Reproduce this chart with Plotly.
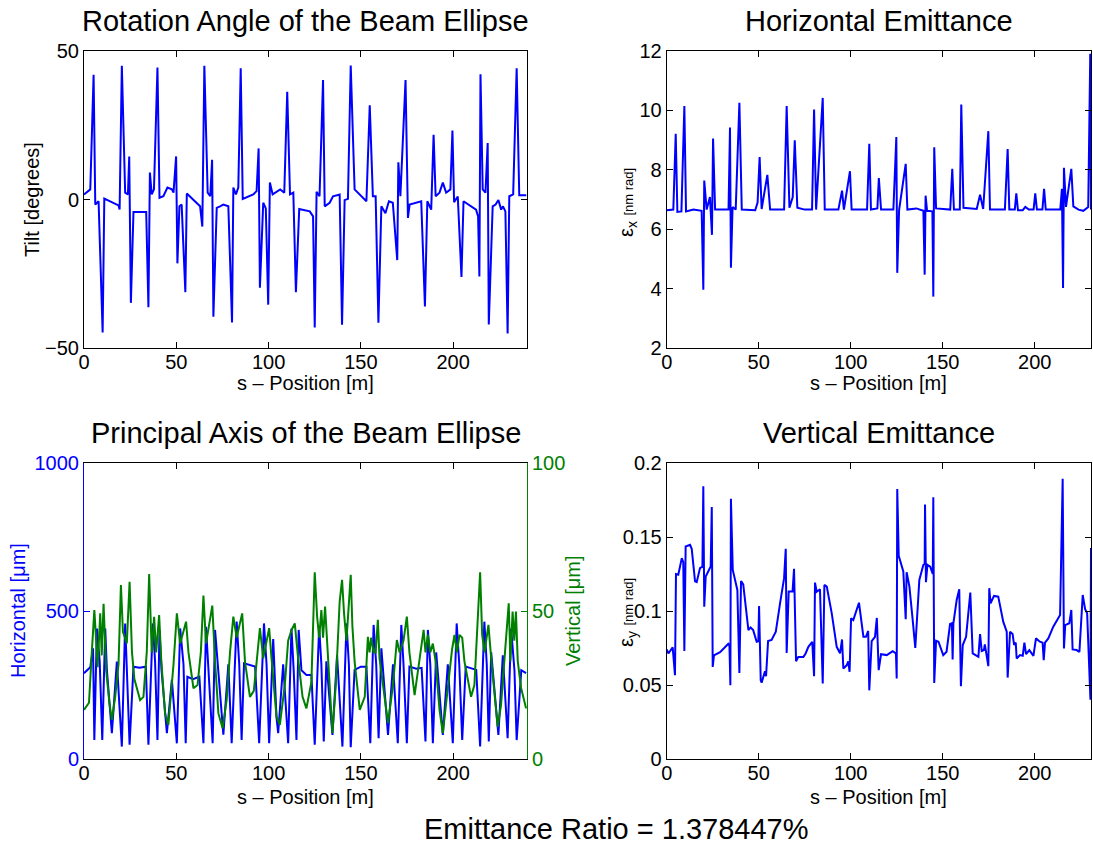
import plotly.graph_objects as go

# ---------------- Rotation angle of the beam ellipse ----------------
s_tilt = [0, 3.4, 5.2, 6.1, 7.9, 10.1, 11.0, 14.0, 18.7, 19.3,
          20.5, 22.3, 23.8, 24.5, 25.4, 26.8, 33.7, 34.9, 35.7, 36.7,
          37.9, 39.8, 40.9, 43.0, 45.2, 47.6, 48.5, 49.9, 50.6, 51.7,
          52.9, 54.9, 55.7, 62.9, 64.1, 65.2, 67.0, 68.4, 69.4, 70.1,
          71.9, 73.7, 75.5, 78.2, 80.2, 80.9, 82.3, 83.6, 84.9, 86.0,
          91.7, 93.5, 94.6, 95.3, 97.1, 98.5, 99.8, 100.7, 102.2, 106.3,
          108.5, 110.1, 111.6, 113.4, 114.8, 116.6, 122.3, 124.1, 125.0, 126.0,
          127.6, 129.5, 130.4, 133.1, 134.9, 138.5, 139.8, 141.2, 143.0, 144.5,
          146.6, 153.0, 154.8, 156.5, 158.0, 159.5, 161.1, 163.3, 165.2, 167.3,
          169.7, 170.3, 171.4, 174.2, 175.5, 176.4, 182.7, 184.7, 186.0, 188.1,
          189.4, 190.5, 192.6, 194.4, 196.2, 198.5, 199.6, 200.5, 202.5, 204.5,
          205.6, 212.4, 213.5, 214.2, 214.8, 216.0, 217.5, 218.7, 219.3, 221.4,
          223.0, 224.5, 226.0, 227.0, 228.3, 229.5, 230.4, 232.5, 234.4, 235.8,
          239.6]
tilt = [1.7, 3.4, 42.0, -1.7, -0.6, -44.8, 0.3, -0.5, -2.0, -3.4,
        45.0, 2.3, 1.7, 14.5, -34.8, -4.2, -4.2, -36.3, 9.1, 1.7,
        3.4, 44.4, 0.6, 1.1, 4.0, 3.4, 2.3, 14.5, -21.5, -2.3,
        -1.7, -31.2, 2.0, -2.3, -9.1, 45.0, 2.3, 1.1, 13.4, -39.5,
        -2.8, -2.3, -1.7, -2.3, -41.4, 4.0, 1.7, 4.0, 44.2, 0.2,
        1.7, 2.8, 17.2, -29.7, -1.1, -3.0, -35.4, 5.7, 1.7, 3.4,
        2.3, 36.3, 1.7, 2.3, -31.2, -3.2, -4.0, -5.7, -43.1, 2.6,
        1.1, 40.2, -2.3, -1.1, 1.1, 1.7, -42.2, -0.2, 0.2, 45.1,
        3.4, -0.6, 31.7, 1.1, 1.1, -41.5, -2.3, -4.6, -0.6, -1.1,
        -20.4, 12.5, 1.1, 40.2, -6.2, -1.7, -0.6, -36.0, -0.6, -3.4,
        21.8, 1.1, 2.3, 5.7, 2.3, 3.4, 23.2, -0.9, 1.0, -26.1,
        -0.6, -3.4, -5.7, -25.9, 42.2, 3.4, 2.3, 19.0, -42.1, -2.3,
        -1.7, -0.2, -3.4, -2.3, -4.0, -45.1, 1.1, 1.7, 44.2, 1.4,
        1.4]

# ---------------- Horizontal emittance [nm rad] ----------------
s_ex = [0, 3.6, 4.9, 5.8, 8.0, 9.6, 10.5, 14.5, 19.0, 19.9,
        20.4, 21.7, 23.5, 24.6, 25.2, 26.3, 33.6, 34.4, 34.9, 35.8,
        37.5, 39.5, 40.8, 48.1, 49.4, 50.5, 51.6, 54.7, 56.2, 63.8,
        65.2, 66.7, 68.5, 69.6, 71.0, 75.0, 79.0, 80.1, 81.2, 84.8,
        85.9, 93.3, 95.3, 96.3, 99.6, 100.5, 108.9, 110.1, 111.0, 114.5,
        115.3, 116.5, 123.2, 124.8, 125.3, 126.3, 129.9, 130.8, 135.7, 139.5,
        140.2, 140.7, 141.5, 144.4, 144.9, 145.4, 146.4, 154.1, 155.2, 156.1,
        159.3, 160.1, 161.3, 168.5, 170.3, 172.0, 174.8, 175.7, 183.8, 185.3,
        186.2, 189.2, 190.0, 190.9, 193.5, 194.9, 196.8, 199.4, 200.3, 201.2,
        204.2, 205.1, 206.0, 213.9, 214.8, 215.4, 215.9, 217.0, 219.9, 221.0,
        223.8, 226.4, 229.1, 230.2, 230.6]
ex = [6.64, 6.66, 9.21, 6.58, 6.60, 10.15, 6.60, 6.66, 6.62, 3.96,
      7.64, 6.66, 7.08, 5.81, 9.05, 6.66, 6.66, 9.42, 4.70, 6.75,
      6.66, 10.26, 6.66, 6.64, 6.90, 8.43, 6.68, 7.83, 6.66, 6.66,
      10.15, 6.72, 7.08, 8.99, 6.72, 6.66, 6.66, 10.03, 6.66, 10.42,
      6.66, 6.66, 7.30, 6.66, 7.95, 6.66, 6.66, 8.88, 6.66, 6.70,
      7.72, 6.66, 6.66, 9.10, 4.53, 6.64, 8.20, 6.66, 6.70, 6.62,
      4.47, 7.13, 6.62, 6.60, 3.73, 8.76, 6.70, 6.66, 8.03, 6.66,
      6.66, 10.20, 6.72, 6.68, 7.16, 6.68, 9.30, 6.66, 6.66, 8.70,
      6.66, 6.66, 7.21, 6.64, 6.64, 6.75, 6.66, 6.66, 7.21, 6.66,
      6.66, 7.36, 6.66, 6.66, 7.36, 4.02, 8.07, 6.75, 8.03, 6.77,
      6.66, 6.62, 6.75, 11.91, 6.66]

# ---------------- Principal axes of the beam ellipse [um] ----------------
s_h = [0, 3.4, 4.9, 5.6, 7.0, 8.5, 9.9, 11.5, 12.4, 15.1,
       17.8, 20.5, 22.3, 23.2, 24.7, 26.8, 30.0, 33.5, 34.9, 37.3,
       38.5, 39.8, 40.9, 42.0, 44.9, 47.6, 50.3, 52.1, 53.9, 55.1,
       56.0, 59.0, 62.5, 64.7, 66.1, 67.9, 69.7, 71.0, 72.8, 75.5,
       78.2, 80.0, 82.7, 84.1, 85.4, 86.7, 92.7, 94.9, 97.5, 98.9,
       100.3, 102.5, 104.3, 105.2, 107.9, 110.6, 112.4, 113.6, 115.1, 116.3,
       117.8, 120.5, 123.2, 125.0, 127.4, 128.6, 129.9, 131.3, 134.6, 137.1,
       140.0, 142.2, 143.5, 144.5, 146.6, 150.0, 153.0, 155.1, 156.9, 158.3,
       159.6, 161.1, 164.7, 167.4, 170.0, 171.9, 173.1, 174.9, 176.3, 180.0,
       182.9, 185.0, 186.3, 187.6, 189.0, 190.8, 194.4, 197.1, 199.8, 201.9,
       203.3, 204.9, 206.8, 210.0, 212.5, 214.6, 216.9, 218.2, 219.3, 220.6,
       224.5, 226.9, 229.5, 231.4, 233.2, 234.4, 236.9, 239.5]
horiz = [290, 310, 374, 64, 441, 330, 64, 441, 300, 87,
         329, 42, 458, 300, 48, 312, 308, 312, 48, 458,
         330, 64, 436, 300, 87, 268, 53, 441, 320, 53,
         278, 270, 278, 53, 447, 250, 53, 436, 300, 82,
         320, 53, 464, 320, 64, 323, 312, 53, 458, 320,
         53, 405, 140, 87, 320, 53, 441, 300, 64, 436,
         300, 284, 284, 48, 447, 320, 59, 330, 81, 350,
         42, 458, 320, 40, 301, 312, 312, 53, 453, 320,
         70, 374, 81, 320, 53, 453, 320, 53, 312, 305,
         308, 59, 436, 320, 53, 360, 81, 320, 53, 458,
         320, 64, 312, 305, 301, 42, 464, 320, 59, 360,
         81, 350, 70, 441, 300, 64, 300, 290]

s_v = [0, 2.7, 4.3, 5.6, 6.6, 7.4, 8.8, 9.6, 10.6, 12.0,
       13.8, 15.1, 16.9, 18.7, 20.0, 21.1, 23.2, 24.7, 26.0, 27.3,
       30.4, 32.2, 34.0, 35.3, 36.7, 38.0, 39.1, 40.7, 41.8, 43.9,
       45.7, 48.5, 50.3, 52.1, 55.3, 56.6, 59.3, 61.5, 63.3, 64.7,
       66.1, 67.4, 69.5, 71.0, 72.8, 75.1, 77.3, 79.1, 80.9, 82.7,
       85.7, 87.2, 89.9, 92.0, 93.5, 95.3, 97.1, 100.3, 101.6, 104.3,
       106.1, 108.8, 110.6, 112.4, 114.2, 116.0, 118.4, 120.5, 123.2, 123.8,
       125.0, 126.3, 127.4, 128.6, 129.5, 130.6, 132.2, 134.6, 136.4, 138.5,
       139.8, 140.9, 142.2, 143.4, 144.5, 145.4, 146.6, 149.4, 152.1, 153.8,
       154.7, 155.6, 156.9, 158.0, 159.2, 160.1, 161.9, 164.7, 167.4, 169.5,
       171.0, 173.1, 174.9, 176.3, 179.1, 181.8, 184.0, 185.0, 186.3, 187.6,
       189.0, 190.5, 192.6, 194.4, 197.1, 199.4, 200.7, 202.0, 203.4, 204.9,
       206.1, 209.7, 211.5, 213.3, 214.6, 215.7, 217.0, 219.1, 220.6, 224.1,
       225.9, 227.7, 228.9, 230.1, 231.0, 232.2, 233.1, 234.0, 235.0, 236.8,
       239.5]
vert = [16.6, 19, 36.8, 50.3, 40, 31, 49.2, 35, 52.4, 30,
        18.8, 13.2, 21, 32, 58.8, 43, 39, 59.9, 36, 27,
        19.9, 21, 36, 62.5, 36, 48, 36, 48.6, 34, 15.4,
        11.5, 32, 49.2, 39, 46.4, 36, 23.9, 25, 36, 55.2,
        39, 44, 51.8, 33, 15.4, 10.4, 20, 36, 48.1, 41,
        49.2, 33, 21, 23, 34, 44.2, 34, 44.2, 34, 14.3,
        11.5, 25, 40, 43.5, 45.8, 34, 21, 17.1, 26, 37.9,
        63.1, 48, 41, 50.3, 41, 51.5, 33, 8.7, 25, 53.1,
        60.5, 49, 40, 51, 62.2, 45, 33, 16.6, 21, 41.3,
        36, 41, 36, 36, 47, 34, 25, 12.1, 25, 40.2,
        36, 40, 48.1, 36, 21.6, 33, 43.6, 36, 42, 36,
        39, 33, 16.6, 8.7, 25, 37, 41.9, 36, 41.9, 41,
        33, 21, 25, 46, 63.1, 42, 36, 45.3, 34, 10.9,
        18, 33, 43, 52.6, 33, 49.8, 40, 49.8, 33, 24,
        17.1]

# ---------------- Vertical emittance [nm rad] ----------------
s_ey = [0, 0.9, 3.25, 4.5, 5.05, 6.3, 8.2, 9.0, 9.6, 10.3,
        12.7, 13.6, 15.4, 16.3, 18.1, 19.4, 19.9, 20.4, 21.2, 23.9,
        24.5, 25.0, 25.7, 29.0, 33.5, 34.1, 34.6, 34.9, 35.9, 38.4,
        39.5, 40.4, 41.6, 44.4, 45.6, 47.0, 48.9, 49.8, 50.2, 51.1,
        51.6, 53.4, 54.0, 55.1, 57.0, 59.3, 61.6, 63.8, 64.7, 65.2,
        66.3, 68.4, 69.2, 70.3, 71.5, 74.3, 75.5, 77.0, 79.1, 80.1,
        80.6, 81.5, 83.3, 84.8, 85.7, 87.0, 89.7, 92.4, 94.2, 95.3,
        96.0, 97.8, 98.7, 99.4, 100.2, 101.4, 104.5, 105.6, 106.9, 108.3,
        109.5, 110.1, 111.4, 113.2, 114.2, 115.2, 116.5, 119.6, 122.8, 124.6,
        125.0, 125.3, 126.1, 128.6, 129.9, 130.4, 131.9, 133.7, 135.1, 137.3,
        139.5, 140.2, 140.4, 140.9, 141.7, 143.2, 144.6, 144.9, 145.4, 146.4,
        147.7, 150.3, 152.1, 154.0, 155.0, 155.4, 155.8, 157.6, 159.0, 159.9,
        160.9, 162.7, 163.9, 165.0, 166.3, 169.4, 170.3, 171.2, 172.4, 172.9,
        174.8, 175.3, 176.0, 177.9, 180.2, 182.9, 184.8, 185.3, 186.6, 188.0,
        188.8, 189.7, 190.2, 192.0, 193.5, 194.4, 195.3, 197.1, 199.3, 200.7,
        202.8, 204.3, 204.9, 205.6, 207.4, 210.1, 213.8, 215.2, 215.9, 216.6,
        218.8, 219.9, 220.6, 222.8, 224.3, 226.1, 227.4, 228.5, 230.3, 230.6]
ey = [0.074, 0.0713, 0.0754, 0.0566, 0.125, 0.1245, 0.1357, 0.133, 0.0729, 0.1436,
      0.1447, 0.142, 0.12, 0.1195, 0.129, 0.130, 0.1843, 0.1029, 0.1233, 0.1301,
      0.1703, 0.0622, 0.070, 0.0722, 0.0779, 0.077, 0.0498, 0.1759, 0.1278, 0.1142,
      0.0582, 0.1203, 0.118, 0.0871, 0.0889, 0.0871, 0.0792, 0.0795, 0.1034, 0.0532,
      0.0515, 0.0593, 0.0559, 0.0797, 0.0804, 0.086, 0.1052, 0.1222, 0.142, 0.0717,
      0.1131, 0.1131, 0.1285, 0.0661, 0.069, 0.069, 0.0713, 0.0758, 0.0792, 0.0559,
      0.1192, 0.113, 0.1147, 0.051, 0.1176, 0.1165, 0.0984, 0.0758, 0.0714, 0.0808,
      0.0611, 0.0633, 0.066, 0.0589, 0.095, 0.0939, 0.1056, 0.095, 0.0826, 0.0826,
      0.0865, 0.0464, 0.0797, 0.0826, 0.0953, 0.060, 0.0708, 0.0702, 0.0729, 0.0713,
      0.0544, 0.1825, 0.1373, 0.1267, 0.0944, 0.1262, 0.1167, 0.0939, 0.0751, 0.121,
      0.1312, 0.132, 0.1719, 0.1194, 0.1312, 0.130, 0.1251, 0.1768, 0.0514, 0.0799,
      0.0792, 0.0702, 0.0725, 0.0912, 0.0917, 0.0673, 0.0917, 0.1074, 0.1147, 0.0492,
      0.077, 0.0826, 0.1007, 0.1124, 0.0713, 0.069, 0.0844, 0.0729, 0.0736, 0.0774,
      0.0627, 0.1154, 0.1052, 0.1102, 0.1097, 0.0928, 0.086, 0.055, 0.086, 0.0844,
      0.0771, 0.0786, 0.0679, 0.0702, 0.0697, 0.0786, 0.0709, 0.0736, 0.0697, 0.0815,
      0.0793, 0.0786, 0.0668, 0.0786, 0.0815, 0.0894, 0.0973, 0.1893, 0.0747, 0.0905,
      0.0917, 0.1007, 0.074, 0.0736, 0.0723, 0.1108, 0.1012, 0.0984, 0.0401, 0.1425]

emittance_ratio = 1.378447

# ---------------- figure ----------------
W, H = 1093, 846
FONT = "Liberation Sans, Arial, Helvetica, sans-serif"
BLUE = "#0000ff"
GREEN = "#008000"


def px(x):
    return x / W


def py(y):
    return 1 - y / H


XL = [px(84), px(527)]
XR = [px(666.7), px(1091)]
YT = [py(348), py(51)]
YB = [py(759), py(463)]

fig = go.Figure()

fig.add_trace(go.Scatter(x=s_tilt, y=tilt, mode="lines", line=dict(color=BLUE, width=2),
                         xaxis="x", yaxis="y", showlegend=False))
fig.add_trace(go.Scatter(x=s_ex, y=ex, mode="lines", line=dict(color=BLUE, width=2),
                         xaxis="x2", yaxis="y2", showlegend=False))
fig.add_trace(go.Scatter(x=s_h, y=horiz, mode="lines", line=dict(color=BLUE, width=2),
                         xaxis="x3", yaxis="y3", showlegend=False))
fig.add_trace(go.Scatter(x=s_v, y=vert, mode="lines", line=dict(color=GREEN, width=2),
                         xaxis="x3", yaxis="y5", showlegend=False))
fig.add_trace(go.Scatter(x=s_ey, y=ey, mode="lines", line=dict(color=BLUE, width=2),
                         xaxis="x4", yaxis="y4", showlegend=False))

tickfont = dict(family=FONT, size=20, color="black")


def xax(domain, anchor, rng):
    return dict(domain=domain, anchor=anchor, range=rng, tick0=0, dtick=50,
                ticks="inside", ticklen=6, tickcolor="black", showline=True,
                linecolor="black", linewidth=1, mirror="ticks", showgrid=False,
                zeroline=False, tickfont=tickfont, fixedrange=True, automargin=False,
                ticklabelstandoff=-4)


def yax(domain, anchor, rng, dtick, **kw):
    d = dict(domain=domain, anchor=anchor, range=rng, tick0=0, dtick=dtick,
             ticks="inside", ticklen=6, tickcolor="black", showline=True,
             linecolor="black", linewidth=1, mirror="ticks", showgrid=False,
             zeroline=False, tickfont=tickfont, fixedrange=True, automargin=False)
    d.update(kw)
    return d


fig.update_layout(
    template="none",
    width=W, height=H,
    margin=dict(l=0, r=0, t=0, b=0, pad=0, autoexpand=False),
    paper_bgcolor="white", plot_bgcolor="white",
    font=dict(family=FONT, color="black"),
    showlegend=False,
    xaxis=xax(XL, "y", [0, 240]),
    yaxis=yax(YT, "x", [-50, 50], 50),
    xaxis2=xax(XR, "y2", [0, 230.6]),
    yaxis2=yax(YT, "x2", [2, 12], 2),
    xaxis3=xax(XL, "y3", [0, 240]),
    yaxis3=yax(YB, "x3", [0, 1000], 500, linecolor=BLUE, tickcolor=BLUE, mirror=False,
               tickfont=dict(family=FONT, size=20, color=BLUE)),
    yaxis5=dict(overlaying="y3", anchor="x3", side="right", range=[0, 100], tick0=0, dtick=50,
                ticks="inside", ticklen=6, tickcolor=GREEN, showline=True, linecolor=GREEN,
                linewidth=1, showgrid=False, zeroline=False, fixedrange=True, automargin=False,
                tickfont=dict(family=FONT, size=20, color=GREEN)),
    xaxis4=xax(XR, "y4", [0, 230.6]),
    yaxis4=yax(YB, "x4", [0, 0.2], 0.05),
)

ann = []


def text(x, y, s, size=20, color="black", angle=0):
    ann.append(dict(x=px(x), y=py(y), xref="paper", yref="paper", text=s, showarrow=False,
                    xanchor="center", yanchor="middle", textangle=angle, borderpad=0,
                    font=dict(family=FONT, size=size, color=color)))


TITLE = 29
cl = (84 + 527) / 2
cr = (666.7 + 1091) / 2
text(cl, 21, "Rotation Angle of the Beam Ellipse", TITLE)
text(cr, 21, "Horizontal Emittance", TITLE)
text(cl, 433, "Principal Axis of the Beam Ellipse", TITLE)
text(cr, 433, "Vertical Emittance", TITLE)

text(cl, 383, "s \u2013 Position [m]")
text(cr, 383, "s \u2013 Position [m]")
text(cl, 797, "s \u2013 Position [m]")
text(cr, 797, "s \u2013 Position [m]")

text(32, 200, "Tilt [degrees]", angle=-90)
text(627, 203, "\u03b5<sub>x</sub> <span style='font-size:13px'>[nm rad]</span>", angle=-90)
text(627, 613, "\u03b5<sub>y</sub> <span style='font-size:13px'>[nm rad]</span>", angle=-90)
text(18, 611, "Horizontal [\u03bcm]", color=BLUE, angle=-90)
text(573, 611, "Vertical [\u03bcm]", color=GREEN, angle=-90)

text(617, 829, f"Emittance Ratio = {emittance_ratio:.6f}%", 29)

fig.update_layout(annotations=ann)

fig.write_html("out.html")
